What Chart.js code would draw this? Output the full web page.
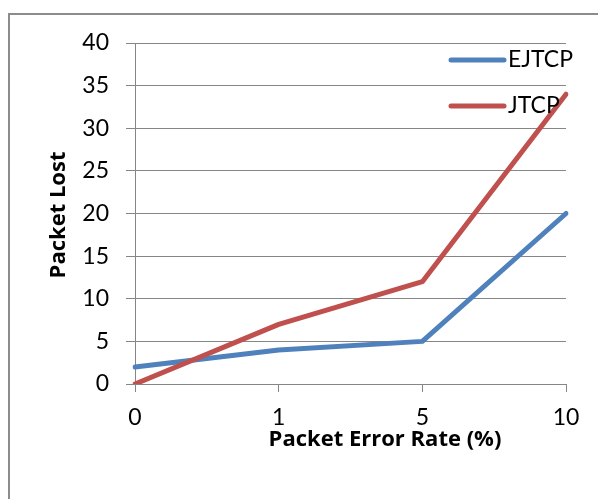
<!DOCTYPE html>
<html>
<head>
<meta charset="utf-8">
<script src="https://cdn.jsdelivr.net/npm/chart.js@4"></script>
<style>
  html, body { margin: 0; padding: 0; background: #fff; }
  #wrap { position: relative; width: 598px; height: 499px; overflow: hidden; }
  #frame { position: absolute; left: 8px; top: 13px; width: 620px; height: 520px; border: 2px solid #8c8c8c; box-sizing: border-box; }
  canvas { position: absolute; left: 0; top: 0; }
</style>
</head>
<body>
<div id="wrap">
  <div id="frame"></div>
  <canvas id="chart" width="598" height="499"></canvas>
</div>
<script>
// dados
const errorRates = ['0', '1', '5', '10'];
const ejtcpLost = [2, 4, 5, 20];
const jtcpLost = [0, 7, 12, 34];
const seriesNames = ['EJTCP', 'JTCP'];
const seriesColors = ['#4F81BD', '#C0504D'];
const xTitle = 'Packet Error Rate (%)';
const yTitle = 'Packet Lost';

const gridGray = '#868686';
const fontFamily = 'Lato, "Open Sans", sans-serif';
const titleFamily = '"Open Sans", Lato, sans-serif';

// legenda e títulos desenhados à mão, como no original
const extras = {
    id: 'extras',
    afterDraw(chart) {
        const ctx = chart.ctx;
        ctx.save();
        chart.data.datasets.forEach((ds, i) => {
            const y = 60 + i * 46;
            ctx.strokeStyle = ds.borderColor;
            ctx.lineWidth = 5;
            ctx.lineCap = 'round';
            ctx.beginPath();
            ctx.moveTo(451, y);
            ctx.lineTo(504, y);
            ctx.stroke();
            ctx.fillStyle = '#000';
            ctx.font = '23px ' + fontFamily;
            ctx.textAlign = 'left';
            ctx.textBaseline = 'middle';
            ctx.fillText(ds.label, 508, y);
        });
        ctx.font = 'bold 22px ' + titleFamily;
        ctx.textAlign = 'center';
        ctx.textBaseline = 'middle';
        ctx.fillText(xTitle, 385, 440);
        ctx.translate(59, 215);
        ctx.rotate(-Math.PI / 2);
        ctx.fillText(yTitle, 0, 0);
        ctx.restore();
    }
};

const ctx = document.getElementById('chart').getContext('2d');
new Chart(ctx, {
    type: 'line',
    data: {
        labels: errorRates,
        datasets: [
            { label: seriesNames[0], data: ejtcpLost, borderColor: seriesColors[0], order: 1 },
            { label: seriesNames[1], data: jtcpLost, borderColor: seriesColors[1], order: 0 }
        ].map(d => Object.assign(d, {
            borderWidth: 5,
            pointRadius: 0,
            tension: 0,
            fill: false,
            borderCapStyle: 'round',
            borderJoinStyle: 'round'
        }))
    },
    options: {
        responsive: false,
        animation: false,
        devicePixelRatio: 1,
        layout: { padding: { left: 0, top: 43, right: 32, bottom: 0 } },
        scales: {
            x: {
                offset: false,
                grid: { drawOnChartArea: false, drawTicks: true, tickLength: 8, color: gridGray },
                border: { color: gridGray },
                ticks: { color: '#000', padding: 12, maxRotation: 0, font: { family: fontFamily, size: 23 } },
                afterFit(scale) { scale.height = 115; }
            },
            y: {
                min: 0,
                max: 40,
                ticks: { stepSize: 5, color: '#000', padding: 17, font: { family: fontFamily, size: 23 } },
                grid: { color: gridGray, tickLength: 9 },
                border: { color: gridGray },
                afterFit(scale) { scale.width = 135; }
            }
        },
        plugins: {
            legend: { display: false },
            tooltip: { enabled: false }
        }
    },
    plugins: [extras]
});
</script>
</body>
</html>
